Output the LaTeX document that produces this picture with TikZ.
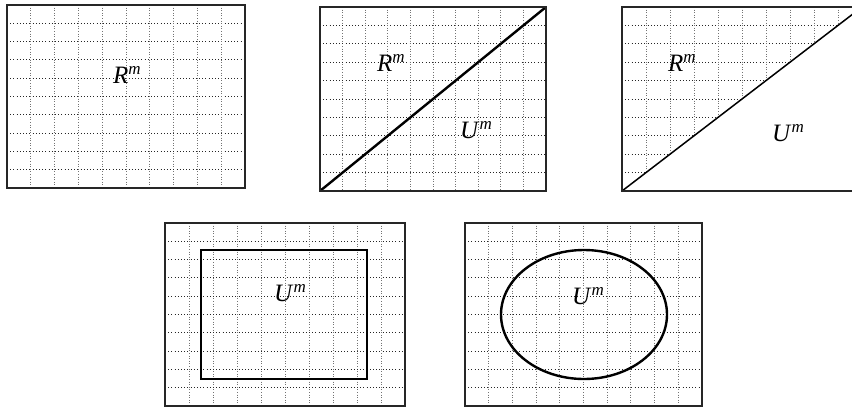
\documentclass[tikz,border=0pt]{standalone}
\usepackage{fontspec}
\setmainfont{Liberation Serif}
\newcommand\setlbl[1]{\textit{#1}\raisebox{0.36em}{\fontsize{17pt}{17pt}\selectfont\itshape m}}
\tikzset{
  frame/.style={draw=black!85, line width=1.4pt},
  vgrid/.style={draw=black!55, line width=0.9pt, dash pattern=on 1pt off 1.6pt},
  hgrid/.style={draw=black!85, line width=0.9pt, dash pattern=on 1pt off 2.2pt},
  thick curve/.style={draw=black, line width=2.4pt},
  thin curve/.style={draw=black, line width=1.5pt},
  lbl/.style={anchor=base west, inner sep=0pt, font=\fontsize{25pt}{25pt}\selectfont}
}
\newcommand\gridin[4]{%
  \foreach \k in {1,...,9}{
    \draw[vgrid] ({#1+\k*(#3-#1)/10},#2) -- ({#1+\k*(#3-#1)/10},#4);
    \draw[hgrid] (#1,{#2+\k*(#4-#2)/10}) -- (#3,{#2+\k*(#4-#2)/10});
  }}
\begin{document}
\begin{tikzpicture}[x=1pt,y=-1pt]
\useasboundingbox (0,0) rectangle (852,407);
\clip (0,0) rectangle (852,407);
\fill[white] (0,0) rectangle (852,407);
% panel 1
\gridin{7}{5}{245}{188}
\draw[frame] (7,5) rectangle (245,188);
\node[lbl] (r1) at (113,83) {\setlbl{R}};
% panel 2
\gridin{320}{7}{546}{191}
\coordinate (p2a) at (320,191);
\coordinate (p2b) at (546,7);
\draw[thick curve] (p2a) -- (p2b);
\draw[frame] (320,7) rectangle (546,191);
\node[lbl] (r2) at (377,71) {\setlbl{R}};
\node[lbl] (u2) at (460,138) {\setlbl{U}};
% panel 3
\begin{scope}
  \clip (622,191) -- (862,7) -- (622,7) -- cycle;
  \gridin{622}{7}{862}{191}
\end{scope}
\coordinate (p3a) at (622,191);
\coordinate (p3b) at (862,7);
\draw[thin curve] (p3a) -- (p3b);
\draw[frame] (622,7) rectangle (862,191);
\node[lbl] (r3) at (668,71) {\setlbl{R}};
\node[lbl] (u3) at (772,141) {\setlbl{U}};
% panel 4
\gridin{165}{223}{405}{406}
\draw[frame] (165,223) rectangle (405,406);
\draw[thick curve] (201,250) rectangle (367,379);
\node[lbl] (u4) at (274,301) {\setlbl{U}};
% panel 5
\gridin{465}{223}{702}{406}
\draw[frame] (465,223) rectangle (702,406);
\draw[thick curve] (584,314.5) ellipse [x radius=83, y radius=64.5];
\node[lbl] (u5) at (572,304) {\setlbl{U}};
\end{tikzpicture}
\end{document}
